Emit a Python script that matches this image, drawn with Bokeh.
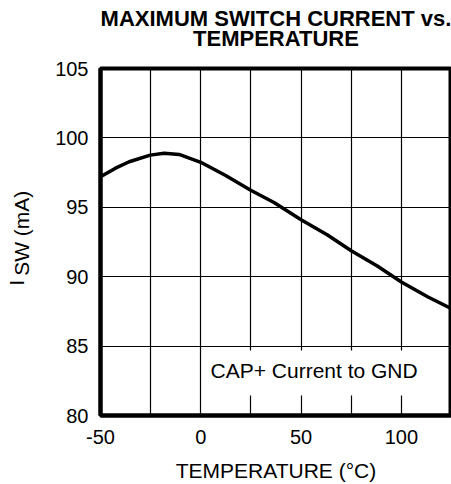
from bokeh.plotting import figure
from bokeh.models import Range1d, FixedTicker, Label, LinearAxis
from bokeh.embed import file_html
from bokeh.resources import INLINE

# Data
temperature_c = [-50, -42.5, -35.7, -25.2, -18.3, -10.8, 0, 12.4, 24.9, 36.5, 50, 63.2, 75, 88, 100, 113.3, 125]
isw_ma = [97.2, 97.82, 98.28, 98.76, 98.9, 98.81, 98.24, 97.29, 96.23, 95.35, 94.1, 93.0, 91.87, 90.77, 89.62, 88.54, 87.7]

x_tick_labels = [-50, 0, 50, 100]
x_grid = [-25, 0, 25, 50, 75, 100]
y_tick_labels = [80, 85, 90, 95, 100, 105]
y_grid = [85, 90, 95, 100]
title_lines = ["MAXIMUM SWITCH CURRENT vs.", "TEMPERATURE"]

FONT = "Liberation Sans"
NBSP = "\u00a0"

p = figure(width=451, height=484, output_backend="svg", toolbar_location=None, title=None,
           x_range=Range1d(-50, 125), y_range=Range1d(80, 105),
           min_border_left=100, min_border_right=0, min_border_top=68, min_border_bottom=65)

p.outline_line_color = "black"
p.outline_line_width = 4

for ax in (p.xaxis, p.yaxis):
    ax.axis_line_width = 4
    ax.axis_line_color = "black"
    ax.major_tick_line_color = None
    ax.minor_tick_line_color = None
    ax.major_label_text_font = FONT
    ax.major_label_text_font_size = "20px"
    ax.major_label_text_color = "black"

p.xaxis.ticker = FixedTicker(ticks=x_tick_labels)
p.yaxis.ticker = FixedTicker(ticks=y_tick_labels)
p.xaxis.major_label_overrides = {t: str(t) for t in x_tick_labels}
p.xaxis.major_label_standoff = 8
p.yaxis.major_label_standoff = 6

p.xaxis.axis_label = "TEMPERATURE (°C)"
p.xaxis.axis_label_text_font = FONT
p.xaxis.axis_label_text_font_size = "21px"
p.xaxis.axis_label_text_font_style = "normal"
p.xaxis.axis_label_text_color = "black"
p.xaxis.axis_label_standoff = 12

# y label: "SW (mA)" on the main axis, "I" on an extra empty axis (subscript effect)
p.yaxis.axis_label = NBSP * 3 + "SW (mA)"
p.yaxis.axis_label_text_font = FONT
p.yaxis.axis_label_text_font_size = "21px"
p.yaxis.axis_label_text_font_style = "normal"
p.yaxis.axis_label_text_color = "black"
p.yaxis.axis_label_standoff = 19

i_axis = LinearAxis(ticker=FixedTicker(ticks=[]), axis_line_color=None,
                    major_tick_line_color=None, minor_tick_line_color=None,
                    axis_label="I" + NBSP * 14, axis_label_text_font=FONT,
                    axis_label_text_font_size="21px", axis_label_text_font_style="normal",
                    axis_label_text_color="black", axis_label_text_line_height=0.8,
                    axis_label_standoff=-20)
p.add_layout(i_axis, "left")


def title_axis(text, standoff):
    return LinearAxis(ticker=FixedTicker(ticks=[]), axis_line_color=None,
                      major_tick_line_color=None, minor_tick_line_color=None,
                      major_tick_out=0, major_tick_in=0, major_label_standoff=0,
                      axis_label=text, axis_label_text_font=FONT,
                      axis_label_text_font_size="22px", axis_label_text_font_style="bold",
                      axis_label_text_color="black", axis_label_standoff=standoff)


# title: two centred lines (inner line added first)
p.add_layout(title_axis(title_lines[1], 18), "above")
p.add_layout(title_axis(title_lines[0], -8), "above")

p.xgrid.ticker = FixedTicker(ticks=x_grid)
p.ygrid.ticker = FixedTicker(ticks=y_grid)
for g in (p.xgrid, p.ygrid):
    g.grid_line_color = "black"
    g.grid_line_width = 1.2

p.line(temperature_c, isw_ma, line_color="black", line_width=3.5)

# annotation with white background
p.add_layout(Label(x=56.5, y=83.06, text="CAP+ Current to GND", text_align="center",
                   text_baseline="middle", text_font=FONT, text_font_size="21px",
                   text_color="black", background_fill_color="white",
                   padding=dict(left=6, right=6, top=8, bottom=14)))

open("out.html", "w").write(file_html(p, INLINE))
